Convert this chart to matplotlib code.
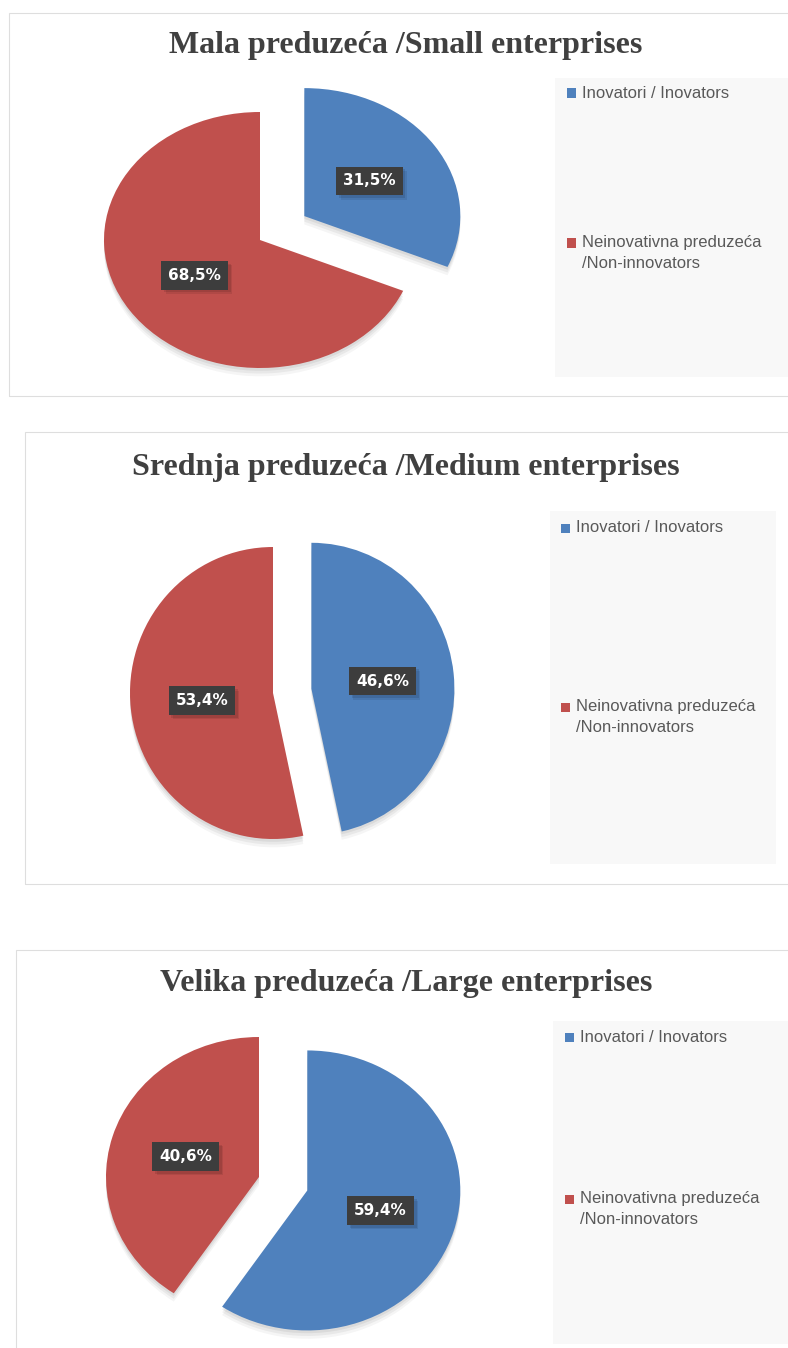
import matplotlib
matplotlib.use("Agg")
import matplotlib.pyplot as plt
from matplotlib.patches import Rectangle
import matplotlib.patheffects as pe

W, H = 788, 1348

titles = ["Mala preduzeća /Small enterprises",
          "Srednja preduzeća /Medium enterprises",
          "Velika preduzeća /Large enterprises"]
categories = ["Inovatori / Inovators", "Neinovativna preduzeća\n/Non-innovators"]
small_values = [31.5, 68.5]
medium_values = [46.6, 53.4]
large_values = [59.4, 40.6]
colors = ["#4F81BD", "#C0504D"]

panels = [
    dict(values=small_values, frame=(9, 13, 800, 396), title_y=45,
         center=(260, 240), rx=156, ry=128, explode=0.34,
         leg=(555, 78, 800, 377), leg_y=(93, 243), mk_x=567, tx_x=582),
    dict(values=medium_values, frame=(25, 432, 800, 884), title_y=467,
         center=(273, 693), rx=143, ry=146, explode=0.27,
         leg=(550, 511, 776, 864), leg_y=(528, 707), mk_x=561, tx_x=576),
    dict(values=large_values, frame=(16, 950, 800, 1360), title_y=983,
         center=(259, 1177), rx=153, ry=140, explode=0.33,
         leg=(553, 1021, 800, 1344), leg_y=(1037, 1199), mk_x=565, tx_x=580),
]

fig = plt.figure(figsize=(W / 100, H / 100), dpi=100)
fig.patch.set_facecolor("white")


def fx(x):
    return x / W


def fy(y):
    return 1 - y / H


def fmt(p):
    return f"{p:.1f}%".replace(".", ",")


for i, p in enumerate(panels):
    x0, y0, x1, y1 = p["frame"]
    fig.patches.append(Rectangle((fx(x0), fy(y1)), fx(x1 - x0), (y1 - y0) / H,
                                 transform=fig.transFigure, facecolor="none",
                                 edgecolor="#dedede", lw=0.8, zorder=-2))
    lx0, ly0, lx1, ly1 = p["leg"]
    fig.patches.append(Rectangle((fx(lx0), fy(ly1)), fx(lx1 - lx0), (ly1 - ly0) / H,
                                 transform=fig.transFigure, facecolor="#f8f8f8",
                                 edgecolor="none", zorder=-1))
    fig.text(fx(406), fy(p["title_y"]), titles[i], ha="center", va="center",
             fontsize=23, fontweight="bold", family="Liberation Serif",
             color="#404040")
    # legend
    for j, cat in enumerate(categories):
        yc = p["leg_y"][j]
        fig.patches.append(Rectangle((fx(p["mk_x"]), fy(yc + 4.5)), fx(9), 9 / H,
                                     transform=fig.transFigure,
                                     facecolor=colors[j], edgecolor="none", zorder=2))
        for k, line in enumerate(cat.split("\n")):
            fig.text(fx(p["tx_x"]), fy(yc + 21 * k), line, ha="left", va="center",
                     fontsize=12, family="Liberation Sans", color="#595959")
    # pie
    cx, cy = p["center"]
    rx, ry = p["rx"], p["ry"]
    L = 1.45
    ax = fig.add_axes([fx(cx - L * rx), fy(cy + L * ry), 2 * L * rx / W, 2 * L * ry / H])
    ax.patch.set_alpha(0)
    wedges, texts, autotexts = ax.pie(
        p["values"], colors=colors, startangle=90, counterclock=False,
        explode=[p["explode"], 0], autopct=fmt, pctdistance=0.5,
        wedgeprops=dict(linewidth=0))
    ax.set_aspect("auto")
    ax.set_xlim(-L, L)
    ax.set_ylim(-L, L)
    ax.axis("off")
    for w in wedges:
        w.set_path_effects([
            pe.SimplePatchShadow(offset=(0, -6), shadow_rgbFace="#000000", alpha=0.04),
            pe.SimplePatchShadow(offset=(0, -4), shadow_rgbFace="#000000", alpha=0.05),
            pe.SimplePatchShadow(offset=(0, -2), shadow_rgbFace="#000000", alpha=0.06),
            pe.Normal()])
    for t in autotexts:
        t.set_color("white")
        t.set_fontweight("bold")
        t.set_fontsize(11)
        t.set_family("DejaVu Sans")
        t.set_bbox(dict(boxstyle="square,pad=0.45", facecolor="#3d3d3d",
                        edgecolor="none"))
        t.get_bbox_patch().set_path_effects([
            pe.SimplePatchShadow(offset=(3, -3), shadow_rgbFace="#000000", alpha=0.08),
            pe.SimplePatchShadow(offset=(2, -2), shadow_rgbFace="#000000", alpha=0.1),
            pe.Normal()])

fig.savefig("out.png", dpi=100, facecolor="white")
